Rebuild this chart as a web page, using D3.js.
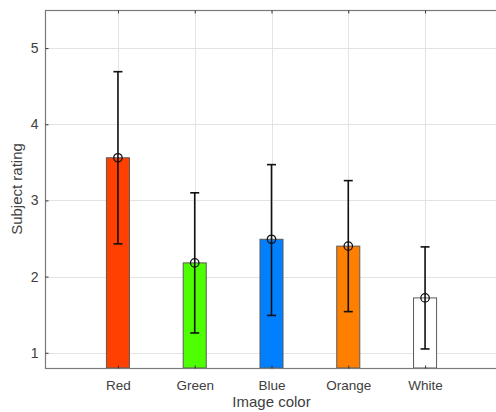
<!DOCTYPE html>
<html>
<head>
<meta charset="utf-8">
<script src="https://cdn.jsdelivr.net/npm/d3@7"></script>
<style>
	body { margin: 0; background: #fff; }
	svg { display: block; font-family: "Liberation Sans", Arial, sans-serif; }
</style>
</head>
<body>
<script>
// * DATA
const categories = ["Red", "Green", "Blue", "Orange", "White"];
const means = [3.56, 2.18, 2.49, 2.40, 1.72];
const lower = [2.43, 1.26, 1.49, 1.54, 1.05];
const upper = [4.69, 3.10, 3.47, 3.26, 2.39];
const barColors = ["#ff4000", "#4dff00", "#0080ff", "#ff8000", "#ffffff"];
const yTicks = [1, 2, 3, 4, 5];

// * SETUP
const width = 496;
const height = 412;
const plotLeft = 45;
const plotRight = 498;
const plotTop = 10;
const plotBottom = 368;
const textColor = "#404040";

const rows = categories.map((c, i) => ({
	name: c,
	pos: i + 1,
	mean: means[i],
	lo: lower[i],
	hi: upper[i],
	color: barColors[i],
}));

const x = d3.scaleLinear().domain([0.05, 5.95]).range([plotLeft, plotRight]);
const y = d3.scaleLinear().domain([0.8, 5.5]).range([plotBottom, plotTop]);

const svg = d3
	.select("body")
	.append("svg")
	.attr("width", width)
	.attr("height", height)
	.attr("viewBox", [0, 0, width, height]);

// * GRID
const grid = svg.append("g").attr("stroke", "#e3e3e3").attr("stroke-width", 1);
grid.selectAll(".hy")
	.data(yTicks)
	.join("line")
	.attr("x1", plotLeft)
	.attr("x2", plotRight)
	.attr("y1", (d) => Math.round(y(d)) + 0.5)
	.attr("y2", (d) => Math.round(y(d)) + 0.5);
grid.selectAll(".vx")
	.data(rows)
	.join("line")
	.attr("x1", (d) => Math.round(x(d.pos)) + 0.5)
	.attr("x2", (d) => Math.round(x(d.pos)) + 0.5)
	.attr("y1", plotTop)
	.attr("y2", plotBottom);

// * BARS
const barHalf = 0.15;
svg.append("g")
	.selectAll("rect")
	.data(rows)
	.join("rect")
	.attr("x", (d) => x(d.pos - barHalf))
	.attr("width", (d) => x(d.pos + barHalf) - x(d.pos - barHalf))
	.attr("y", (d) => y(d.mean))
	.attr("height", (d) => plotBottom - y(d.mean))
	.attr("fill", (d) => d.color)
	.attr("stroke", "#5a5a5a")
	.attr("stroke-width", 1);

// * ERROR BARS
const err = svg.append("g").attr("stroke", "#111").attr("fill", "none");
err.selectAll(".stem")
	.data(rows)
	.join("line")
	.attr("x1", (d) => x(d.pos))
	.attr("x2", (d) => x(d.pos))
	.attr("y1", (d) => y(d.lo))
	.attr("y2", (d) => y(d.hi))
	.attr("stroke-width", 1.6);
for (const key of ["lo", "hi"]) {
	err.selectAll(".cap-" + key)
		.data(rows)
		.join("line")
		.attr("x1", (d) => x(d.pos) - 4.5)
		.attr("x2", (d) => x(d.pos) + 4.5)
		.attr("y1", (d) => y(d[key]))
		.attr("y2", (d) => y(d[key]))
		.attr("stroke-width", 1.6);
}
err.selectAll("circle")
	.data(rows)
	.join("circle")
	.attr("cx", (d) => x(d.pos))
	.attr("cy", (d) => y(d.mean))
	.attr("r", 4.2)
	.attr("stroke-width", 1.3);

// * AXES
svg.append("rect")
	.attr("x", plotLeft + 0.5)
	.attr("y", plotTop + 0.5)
	.attr("width", plotRight - plotLeft)
	.attr("height", plotBottom - plotTop)
	.attr("fill", "none")
	.attr("stroke", "#7a7a7a")
	.attr("stroke-width", 1.2);

svg.append("g")
	.attr("transform", `translate(${plotLeft + 0.5},0)`)
	.call(
		d3.axisLeft(y)
			.tickValues(yTicks)
			.tickFormat(d3.format("d"))
			.tickSize(-3)
			.tickPadding(7)
	)
	.call((g) => g.select(".domain").remove())
	.call((g) => g.selectAll(".tick line").attr("stroke", "#333"))
	.call((g) =>
		g.selectAll(".tick text")
			.attr("fill", textColor)
			.attr("font-size", 14)
			.attr("font-family", "Liberation Sans, Arial, sans-serif")
	);

svg.append("g")
	.attr("transform", `translate(0,${plotBottom + 0.5})`)
	.call(
		d3.axisBottom(x)
			.tickValues(rows.map((d) => d.pos))
			.tickFormat((d) => categories[d - 1])
			.tickSize(-3)
	)
	.call((g) => g.select(".domain").remove())
	.call((g) => g.selectAll(".tick line").attr("stroke", "#333"))
	.call((g) =>
		g.selectAll(".tick text")
			.attr("y", 21)
			.attr("dy", null)
			.attr("fill", textColor)
			.attr("font-size", 13.5)
			.attr("font-family", "Liberation Sans, Arial, sans-serif")
	);

svg.append("g")
	.attr("transform", `translate(0,${plotTop + 0.5})`)
	.call(
		d3.axisTop(x)
			.tickValues(rows.map((d) => d.pos))
			.tickFormat("")
			.tickSize(-3)
	)
	.call((g) => g.select(".domain").remove())
	.call((g) => g.selectAll(".tick line").attr("stroke", "#333"));

// * LABELS
svg.append("text")
	.attr("x", (plotLeft + plotRight) / 2)
	.attr("y", 407)
	.attr("text-anchor", "middle")
	.attr("fill", textColor)
	.attr("font-size", 15)
	.text("Image color");

svg.append("text")
	.attr("transform", `translate(22,${(plotTop + plotBottom) / 2}) rotate(-90)`)
	.attr("text-anchor", "middle")
	.attr("fill", textColor)
	.attr("font-size", 15)
	.text("Subject rating");
</script>
</body>
</html>
